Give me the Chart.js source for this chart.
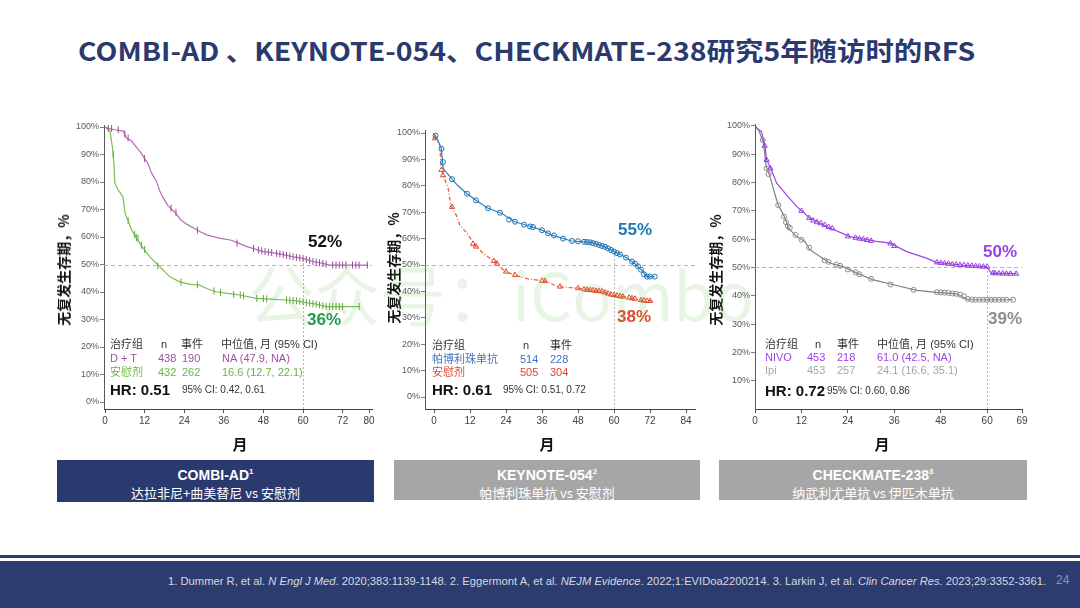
<!DOCTYPE html>
<html lang="zh-CN">
<head>
<meta charset="utf-8">
<title>RFS 5 anos</title>
<script src="https://cdn.jsdelivr.net/npm/chart.js@4.4.1/dist/chart.umd.min.js"></script>
<style>
  html, body { margin: 0; padding: 0; background: #fff; }
  body { width: 1080px; height: 608px; position: relative; overflow: hidden;
         font-family: 'Liberation Sans', Arial, 'Noto Sans CJK SC', sans-serif; color: #333; }
  .t { position: absolute; white-space: nowrap; line-height: 14px; font-size: 11px; }
  .titulo { position: absolute; left: 78px; top: 33px; line-height: 34px; font-size: 26px; font-weight: bold;
            color: #2B3A6E; white-space: nowrap; font-family: 'Noto Sans CJK SC', sans-serif; transform-origin: 0 50%; }
  canvas.km { position: absolute; }
  .ytit { position: absolute; white-space: nowrap; font-size: 14px; font-weight: bold; color: #111;
          font-family: 'Noto Sans CJK SC', sans-serif; transform: translate(-50%, -50%) rotate(-90deg); }
  .xtit { position: absolute; font-size: 15px; font-weight: bold; color: #111; font-family: 'Noto Sans CJK SC', sans-serif;
          transform: translate(-50%, -50%); }
  .pct { position: absolute; font-size: 17px; font-weight: bold; line-height: 20px; white-space: nowrap; }
  .hr { font-size: 15px; font-weight: bold; color: #111; line-height: 18px; }
  .ci { font-size: 10px; color: #333; }
  .caixa { position: absolute; color: #fff; text-align: center; }
  .caixa b { display: block; font-size: 14px; line-height: 18px; margin-top: 3px; font-family: 'Liberation Sans Narrow', 'Liberation Sans', sans-serif; }
  .caixa b sup { font-size: 8px; }
  .caixa span { display: block; font-size: 13px; line-height: 18px; font-family: 'Liberation Sans Narrow', 'Noto Sans CJK SC', sans-serif; }
  .marca { position: absolute; left: 248px; top: 252px; font-size: 66px; line-height: 80px; white-space: nowrap;
           color: rgba(120, 195, 90, 0.16); font-family: 'Noto Sans CJK SC', sans-serif; pointer-events: none; }
  .rodape { position: absolute; left: 0; top: 561px; width: 1080px; height: 47px; background: #2C3C6F; }
  .rodape-linha { position: absolute; left: 0; top: 555px; width: 1080px; height: 3px; background: #2C3C6F; }
  .ref { position: absolute; top: 574px; line-height: 14px; font-size: 11px; color: #D4D8E4; white-space: nowrap;
         font-family: 'Liberation Sans Narrow', 'Liberation Sans', sans-serif; transform-origin: 0 50%; }
  .pag { position: absolute; left: 1056px; top: 573px; font-size: 12px; color: #8C93AD; }
</style>
</head>
<body>

<div class="titulo" id="titulo">COMBI-AD 、KEYNOTE-054、CHECKMATE-238研究5年随访时的RFS</div>

<canvas class="km" id="cCombi"    width="320" height="322" style="left:64px;top:117px"></canvas>
<canvas class="km" id="cKeynote"  width="322" height="317" style="left:385px;top:122px"></canvas>
<canvas class="km" id="cCheck"    width="319" height="323" style="left:715px;top:116px"></canvas>

<!-- eixos -->
<div class="ytit" style="left:63px;top:270px">无复发生存期，%</div>
<div class="ytit" style="left:393px;top:268px">无复发生存期，%</div>
<div class="ytit" style="left:715px;top:270px">无复发生存期，%</div>
<div class="xtit" style="left:240px;top:443px">月</div>
<div class="xtit" style="left:547px;top:443px">月</div>
<div class="xtit" style="left:882px;top:443px">月</div>

<!-- COMBI-AD -->
<div class="pct" style="left:308px;top:232px;color:#111">52%</div>
<div class="pct" style="left:307px;top:310px;color:#1E9A4F">36%</div>
<div class="t" style="left:110px;top:337px">治疗组</div>
<div class="t" style="left:161px;top:337px">n</div>
<div class="t" style="left:181px;top:337px">事件</div>
<div class="t" style="left:221px;top:337px">中位值, 月 (95% CI)</div>
<div class="t" style="left:110px;top:351px;color:#A24FA3">D + T</div>
<div class="t" style="left:158px;top:351px;color:#A24FA3">438</div>
<div class="t" style="left:182px;top:351px;color:#A24FA3">190</div>
<div class="t" style="left:222px;top:351px;color:#A24FA3">NA (47.9, NA)</div>
<div class="t" style="left:110px;top:365px;color:#6DB33F">安慰剂</div>
<div class="t" style="left:158px;top:365px;color:#6DB33F">432</div>
<div class="t" style="left:182px;top:365px;color:#6DB33F">262</div>
<div class="t" style="left:222px;top:365px;color:#6DB33F">16.6 (12.7, 22.1)</div>
<div class="t hr" style="left:110px;top:381px">HR: 0.51</div>
<div class="t ci" style="left:182px;top:383px">95% CI: 0.42, 0.61</div>

<!-- KEYNOTE-054 -->
<div class="pct" style="left:618px;top:220px;color:#1F77B4">55%</div>
<div class="pct" style="left:617px;top:307px;color:#E0492A">38%</div>
<div class="t" style="left:432px;top:338px">治疗组</div>
<div class="t" style="left:523px;top:338px">n</div>
<div class="t" style="left:550px;top:338px">事件</div>
<div class="t" style="left:432px;top:352px;color:#4472C4">帕博利珠单抗</div>
<div class="t" style="left:520px;top:352px;color:#4472C4">514</div>
<div class="t" style="left:550px;top:352px;color:#4472C4">228</div>
<div class="t" style="left:432px;top:365px;color:#E0452B">安慰剂</div>
<div class="t" style="left:520px;top:365px;color:#E0452B">505</div>
<div class="t" style="left:550px;top:365px;color:#E0452B">304</div>
<div class="t hr" style="left:432px;top:381px">HR: 0.61</div>
<div class="t ci" style="left:503px;top:383px">95% CI: 0.51, 0.72</div>

<!-- CHECKMATE-238 -->
<div class="pct" style="left:983px;top:242px;color:#9B3FE8">50%</div>
<div class="pct" style="left:988px;top:309px;color:#8C8C8C">39%</div>
<div class="t" style="left:765px;top:337px">治疗组</div>
<div class="t" style="left:815px;top:337px">n</div>
<div class="t" style="left:837px;top:337px">事件</div>
<div class="t" style="left:877px;top:337px">中位值, 月 (95% CI)</div>
<div class="t" style="left:765px;top:350px;color:#A040F0">NIVO</div>
<div class="t" style="left:807px;top:350px;color:#A040F0">453</div>
<div class="t" style="left:837px;top:350px;color:#A040F0">218</div>
<div class="t" style="left:877px;top:350px;color:#A040F0">61.0 (42.5, NA)</div>
<div class="t" style="left:765px;top:363px;color:#A6A6A6">Ipi</div>
<div class="t" style="left:807px;top:363px;color:#A6A6A6">453</div>
<div class="t" style="left:837px;top:363px;color:#A6A6A6">257</div>
<div class="t" style="left:877px;top:363px;color:#A6A6A6">24.1 (16.6, 35.1)</div>
<div class="t hr" style="left:765px;top:382px">HR: 0.72</div>
<div class="t ci" style="left:827px;top:384px">95% CI: 0.60, 0.86</div>

<div class="marca">公众号：iCombo</div>

<!-- caixas dos estudos -->
<div class="caixa" style="left:57px;top:460px;width:317px;height:42px;background:#2B3A6E">
  <b>COMBI-AD<sup>1</sup></b><span>达拉非尼+曲美替尼 vs 安慰剂</span>
</div>
<div class="caixa" style="left:394px;top:460px;width:306px;height:40px;background:#A6A6A6">
  <b>KEYNOTE-054<sup>2</sup></b><span>帕博利珠单抗 vs 安慰剂</span>
</div>
<div class="caixa" style="left:719px;top:460px;width:308px;height:40px;background:#A6A6A6">
  <b>CHECKMATE-238<sup>3</sup></b><span>纳武利尤单抗 vs 伊匹木单抗</span>
</div>

<div class="rodape-linha"></div>
<div class="rodape"></div>
<div class="ref" id="refs" style="left:168px">1. Dummer R, et al. <i>N Engl J Med</i>. 2020;383:1139-1148. 2. Eggermont A, et al. <i>NEJM Evidence</i>. 2022;1:EVIDoa2200214. 3. Larkin J, et al. <i>Clin Cancer Res</i>. 2023;29:3352-3361.</div>
<div class="pag">24</div>

<script>
/* ── DADOS ── */
const MESES_COMBI     = [0, 12, 24, 36, 48, 60, 72, 80];
const MESES_KEYNOTE   = [0, 12, 24, 36, 48, 60, 72, 84];
const MESES_CHECKMATE = [0, 12, 24, 36, 48, 60, 69];
const PCT_TICKS       = [0, 10, 20, 30, 40, 50, 60, 70, 80, 90, 100];
const PCT_TICKS_CM    = [10, 20, 30, 40, 50, 60, 70, 80, 90, 100];

// COMBI-AD: D + T
const combiDT = [[0,100],[1,99.5],[3,99],[5.5,98.5],[6.5,96],[8,95],[10,92],[11,90.4],[12,88.5],[13,86.8],[14,83.5],
  [15.5,80.5],[16.5,77],[17.5,74.5],[19,71.5],[21,69.2],[23,66.2],[25,64.5],[27,63.2],[29,61.8],[31,60.7],[35,59.5],
  [38,58.9],[41,57.5],[43,56.5],[46,55.4],[48,54.7],[51,54.2],[54,53.6],[57,52.8],[60,52.2],[63,51.1],[66,50.4],
  [68,49.8],[79.7,49.8]];
const combiDTCens = [[1,99.5],[2,99.5],[4,99],[6,97.5],[7,96],[12,88.5],[20,70.5],[21.5,69],[28,62.5],[40,57.8],
  [45,55.8],[46.5,55.3],[47.5,55],[48.5,54.7],[49.5,54.5],[50.5,54.3],[52,54],[53,53.8],[54,53.6],[55,53.3],[56,53],
  [57,52.8],[58,52.6],[59,52.4],[60,52.2],[61,51.8],[62,51.5],[63,51.1],[64,50.9],[65,50.6],[66,50.4],[67,50.1],
  [69,49.8],[70,49.8],[71,49.8],[72,49.8],[73,49.8],[75,49.8],[76,49.8],[77,49.8],[79.5,49.8]];
// COMBI-AD: placebo
const combiPla = [[0,100],[1.5,98.5],[2.3,92.2],[2.7,86.8],[3,79.5],[4,77.1],[5.4,74.7],[6.1,68.6],[7.1,65.6],[8.1,62.5],
  [9.6,59.5],[11.6,55.9],[13.6,52.8],[16.6,49.2],[19.6,45.6],[22.6,43.7],[26,42.8],[28.7,42.5],[31,41.2],[33.7,40.1],
  [37,39.5],[40.8,38.9],[45.8,37.7],[50,37.4],[54.9,37.1],[58,36.8],[61,36.1],[64,35.6],[67,34.7],[77.3,34.7]];
const combiPlaCens = [[2.5,90],[7,66],[9,61],[9.5,59.8],[10,59.5],[11,57],[12,55.5],[16,49.5],[23,43.6],[28,42.6],
  [33,40.4],[35,39.8],[39,39.1],[41,38.9],[42,38.6],[46,37.7],[48,37.6],[49,37.5],[55,37.1],[56,37],[57,36.9],[58,36.8],
  [59,36.6],[60,36.4],[61,36.1],[62,35.9],[63,35.7],[64,35.6],[65,35.3],[66,35],[67,34.7],[68,34.7],[69,34.7],
  [70,34.7],[71,34.7],[72,34.7],[77,34.7]];

// KEYNOTE-054: pembrolizumabe
const keyPem = [[0,99.9],[1.3,97.3],[2.4,94.2],[2.8,90],[3,86.6],[5.8,82.8],[8,80],[10.8,77.2],[14.7,74],[18,71.5],
  [22.5,69.6],[26.9,66.4],[32.5,64.5],[36,63.2],[39.1,61.4],[45.8,59.1],[52.4,58.6],[56.9,56.9],[60.2,55],[63.6,53.1],
  [66.9,50.6],[69.7,47.5],[70.8,45.6],[73.6,45.6]];
const keyPemCens = [[0.5,99],[2.5,94],[3,89],[6,82.5],[11,77],[14,74.5],[18,71.5],[22,69.8],[25,67.2],[27,66.4],[30,65.3],
  [32,64.6],[33,64.4],[36,63.2],[38,62],[40,61.2],[43,60],[46,59.1],[48,59],[50,58.8],[51,58.7],[52,58.6],[53,58.3],
  [54,58],[55,57.6],[56,57.2],[57,56.9],[58,56.3],[59,55.7],[60,55.1],[61,54.5],[62,54],[64,52.8],[66,51.3],[67,50.5],
  [68,49.5],[69,48.2],[70,46.5],[71,45.6],[72,45.6],[73.6,45.6]];
// KEYNOTE-054: placebo
const keyPla = [[0,98.6],[1.9,95.5],[2.4,86.6],[3,84.1],[4.7,79.1],[5.6,72.7],[7.4,68.9],[8.6,65.2],[11.4,61.4],
  [13.6,57.6],[16.4,54.4],[20.3,51.2],[23.7,47.5],[27,46.2],[31.4,44.7],[37,43.9],[41.4,41.8],[48.1,41.2],[52.5,40.5],
  [56,40],[59.2,38.6],[63.6,38],[69,36.7],[72.9,36.4]];
const keyPlaCens = [[0.3,98],[2.5,86],[3,84],[6,72],[13,58],[14,57],[20,51.5],[21,50.5],[24,47.5],[27,46.2],[36,44],
  [37,43.9],[42,41.8],[48,41.2],[50,40.8],[51,40.6],[52,40.5],[53,40.4],[54,40.2],[55,40.1],[56,40],[57,39.6],[58,39.2],
  [59,38.8],[60,38.6],[61,38.4],[62,38.2],[63,38],[65,37.6],[66,37.4],[67,37.2],[69,36.7],[70,36.5],[71,36.4],[72,36.4]];

// CHECKMATE-238: NIVO
const chkNivo = [[0,100],[0.8,98.8],[1.7,98],[2.6,92.7],[3,88],[3.9,85.6],[5.6,79.8],[8.2,75.6],[10.8,71.5],[14.2,67.4],
  [18.5,64.5],[24.5,60.9],[31.4,59.2],[34.9,58.6],[39.2,55.6],[44.3,53.3],[46.9,51.8],[53.7,50.8],[59.8,50.3],
  [61.1,48],[67.6,47.8]];
const chkNivoCens = [[2.5,93],[3,88],[4,85],[12,70],[14,67.5],[15,66.6],[16,66],[17,65.6],[18,65],[19,64.3],[20,63.8],
  [24,61],[26,60.5],[27,60.2],[28,60],[29,59.7],[30,59.4],[35,58.5],[36,57.6],[47,51.8],[48,51.6],[49,51.5],[50,51.3],
  [51,51.2],[52,51],[53,50.9],[54,50.8],[55,50.7],[56,50.6],[57,50.5],[58,50.4],[59,50.3],[60,50.3],[61.5,48],[62,48],
  [63,47.9],[64,47.9],[65,47.8],[66,47.8],[67.5,47.8]];
// CHECKMATE-238: Ipi
const chkIpi = [[0,100],[1,98.5],[2.2,93.9],[2.9,85.6],[3.9,82.1],[5.2,75.6],[6,72.1],[7.8,67.4],[8.6,63.9],[10.8,60.9],
  [12.9,59.2],[14.2,56.2],[16.8,53.9],[19.4,51.5],[22.8,50.3],[26.3,48],[30.6,45.6],[35.8,43.9],[41.8,41.9],[47,41.2],
  [52.1,40.7],[55.1,38.6],[66.7,38.6]];
const chkIpiCens = [[2,95],[3,85],[3.5,83],[6,72],[7.5,68],[8,66],[8.5,64.5],[9,64],[10.5,61.5],[12,59.8],[14,57],
  [18,52.5],[19,52],[21,51],[22,50.6],[24,49.3],[26,48.3],[27,47.6],[30,46],[35,44],[41,42.1],[47,41.3],[48,41.2],
  [49,41.1],[50,41],[51,40.8],[52,40.7],[53,40.4],[54,39.8],[55,38.9],[56,38.6],[57,38.6],[58,38.6],[59,38.6],
  [60,38.6],[61,38.6],[62,38.6],[63,38.6],[64,38.6],[65,38.6],[66.7,38.6]];

document.addEventListener("DOMContentLoaded", () => {
  Chart.defaults.font.family = "'Liberation Sans', Arial, sans-serif";

  montarKM("cCombi", {
    x: [-0.303, 80.9, MESES_COMBI], y: [-2.545, 100.73, PCT_TICKS], ref: { yRef: 50, xRef: 60, yTopo: 52 },
    series: [
      { curva: combiDT,  cens: combiDTCens,  cor: "#B071B2", corMarca: "#9A4C9C", marca: "line", rot: 90, r: 3.5 },
      { curva: combiPla, cens: combiPlaCens, cor: "#7DBF52", corMarca: "#5FA83A", marca: "line", rot: 90, r: 3.5 }
    ]
  });

  montarKM("cKeynote", {
    x: [-3, 87, MESES_KEYNOTE], y: [-4.545, 101.14, PCT_TICKS], ref: { yRef: 50, xRef: 60, yTopo: 55 },
    series: [
      { curva: keyPem, cens: keyPemCens, cor: "#2A80C0", corMarca: "#1F74B6", marca: "circle", r: 2.5 },
      { curva: keyPla, cens: keyPlaCens, cor: "#E4573A", corMarca: "#DE4A2C", marca: "triangle", r: 3, dash: [4, 2, 1, 2] }
    ]
  });

  montarKM("cCheck", {
    x: [0, 69, MESES_CHECKMATE], y: [0, 100.7, PCT_TICKS_CM], ref: { yRef: 50, xRef: 60, yTopo: 50 },
    series: [
      { curva: chkNivo, cens: chkNivoCens, cor: "#9B45E6", corMarca: "#9B3FE8", marca: "triangle", r: 3 },
      { curva: chkIpi,  cens: chkIpiCens,  cor: "#7F7F7F", corMarca: "#8C8C8C", marca: "circle", r: 2.5 }
    ]
  });

  ajustarLargura("titulo", 897);
  ajustarLargura("refs", 878);
});

/* ── LINHAS DE REFERÊNCIA (50% e 60 meses) ── */
const linhasRef = {
  id: "linhasRef",
  beforeDatasetsDraw(chart, args, opts) {
    const { ctx, chartArea, scales: { x, y } } = chart;
    ctx.save();
    ctx.strokeStyle = "#b4b4b4";
    ctx.lineWidth = 1;
    const py = Math.round(y.getPixelForValue(opts.yRef)) + 0.5;
    ctx.setLineDash([4, 3]);
    ctx.beginPath(); ctx.moveTo(chartArea.left, py); ctx.lineTo(chartArea.right, py); ctx.stroke();
    const px = Math.round(x.getPixelForValue(opts.xRef)) + 0.5;
    ctx.setLineDash([2, 2]);
    ctx.beginPath(); ctx.moveTo(px, chartArea.bottom); ctx.lineTo(px, y.getPixelForValue(opts.yTopo)); ctx.stroke();
    ctx.restore();
  }
};

const pts = arr => arr.map(p => ({ x: p[0], y: p[1] }));

function eixoX(min, max, ticks) {
  return {
    type: "linear", min, max,
    afterBuildTicks: s => { s.ticks = ticks.map(v => ({ value: v })); },
    afterFit: s => { s.height = 30; s.paddingLeft = 0; s.paddingRight = 0; },
    grid: { drawOnChartArea: false, tickLength: 4, color: "#595959" },
    border: { color: "#404040" },
    ticks: { color: "#404040", font: { size: 10 }, padding: 2, maxRotation: 0, autoSkip: false }
  };
}

function eixoY(min, max, ticks) {
  return {
    type: "linear", min, max,
    afterBuildTicks: s => { s.ticks = ticks.map(v => ({ value: v })); },
    afterFit: s => { s.width = 40; s.paddingTop = 0; s.paddingBottom = 0; },
    grid: { drawOnChartArea: false, tickLength: 4, color: "#7f7f7f" },
    border: { color: "#595959" },
    ticks: { color: "#595959", font: { size: 9 }, padding: 1, autoSkip: false, callback: v => v + "%" }
  };
}

/* ── CURVA KAPLAN-MEIER ── */
function montarKM(id, cfg) {
  const datasets = [];
  cfg.series.forEach(s => {
    datasets.push({ data: pts(s.curva), borderColor: s.cor, borderWidth: 1.2, borderDash: s.dash || [],
                    pointRadius: 0, tension: 0, fill: false, order: 2 });
    datasets.push({ data: pts(s.cens), showLine: false, pointStyle: s.marca, rotation: s.rot || 0,
                    pointRadius: s.r, borderColor: s.corMarca, backgroundColor: "rgba(255,255,255,0)",
                    pointBorderWidth: 1, order: 1 });
  });

  new Chart(document.getElementById(id), {
    type: "line",
    data: { datasets },
    options: {
      responsive: false, animation: false,
      layout: { padding: { top: 8, right: 12, left: 0, bottom: 0 } },
      plugins: { legend: { display: false }, tooltip: { enabled: false }, linhasRef: cfg.ref },
      scales: { x: eixoX(...cfg.x), y: eixoY(...cfg.y) }
    },
    plugins: [linhasRef]
  });
}

/* ── AJUSTE DE LARGURA DOS TEXTOS ── */
function ajustarLargura(id, alvo) {
  const el = document.getElementById(id);
  if (!el) return;
  const w = el.getBoundingClientRect().width;
  if (w > 0) el.style.transform = "scaleX(" + (alvo / w).toFixed(3) + ")";
}
</script>
</body>
</html>
